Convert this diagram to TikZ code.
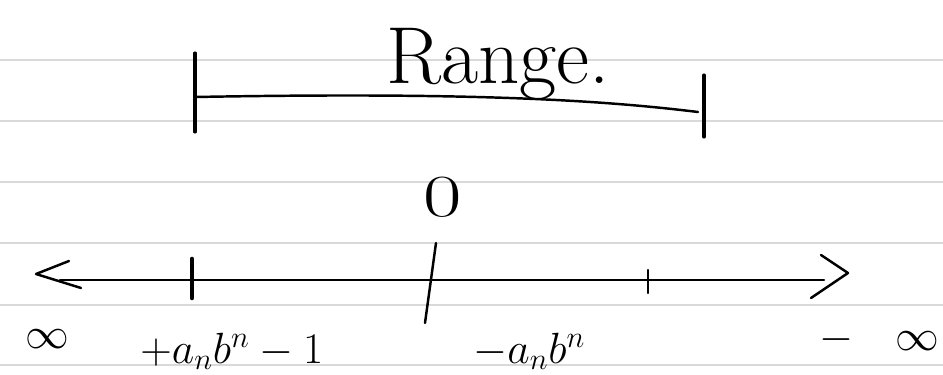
\documentclass[tikz,border=0pt]{standalone}
\usepackage{amsmath}
\usetikzlibrary{
  arrows.meta,
  positioning,
  calc
}

\begin{document}
\begin{tikzpicture}[
      x=0.02cm, y=-0.02cm,
      pauta/.style={line width=1.3pt, gray!30},
      traco/.style={line width=1.4pt, line cap=round, line join=round},
      rotulo/.style={inner sep=0pt, font=\fontsize{23}{26}\selectfont},
      infinito/.style={inner sep=0pt, font=\fontsize{38}{40}\selectfont}
  ]
      \useasboundingbox (0,0) rectangle (943,375);

      % Ruled paper
      \foreach \y in {60,121,182,243,305,365}
        \draw[pauta] (0,\y) -- (943,\y);

      % Range bar
      \node[inner sep=0pt, anchor=base, font=\fontsize{46}{50}\selectfont] (range) at (498,84) {Range.};
      \coordinate (rgL) at (195,97);
      \coordinate (rgR) at (698,112);
      \draw[traco] (rgL) .. controls (470,92) and (600,100) .. (rgR);
      \draw[traco, line width=1.8pt] ($(rgL)+(0,-44)$) -- ($(rgL)+(0,35)$);
      \draw[traco, line width=1.8pt] ($(rgR)+(6,-37)$) -- ($(rgR)+(6,25)$);

      % Zero
      \node[inner sep=0pt, xscale=1.4, font=\fontsize{34}{36}\selectfont] (zero) at (443,197) {0};

      % Number line
      \coordinate (nlL) at (60,280);
      \coordinate (nlR) at (824,280);
      \draw[traco] (nlL) -- (nlR);
      \draw[traco] (69,261) -- (36,274) -- (81,288);
      \draw[traco] (821,255) -- (848,273) -- (811,298);

      % Ticks
      \draw[traco, line width=2.6pt] (192,259) -- (192,298);
      \draw[traco] (436,243) -- (425,323);
      \draw[traco] (648,270) -- (648,293);

      % Labels
      \node[infinito, anchor=base] (infL) at (47,348) {$\infty$};
      \node[rotulo, anchor=base west] (lblL) at (140,363) {$+a_n b^n -1$};
      \node[rotulo, anchor=base west] (lblR) at (473,363) {$-a_n b^n$};
      \node[infinito, anchor=base east] (infR) at (940,350) {$-$\hspace{24pt}$\infty$};
  \end{tikzpicture}
\end{document}
